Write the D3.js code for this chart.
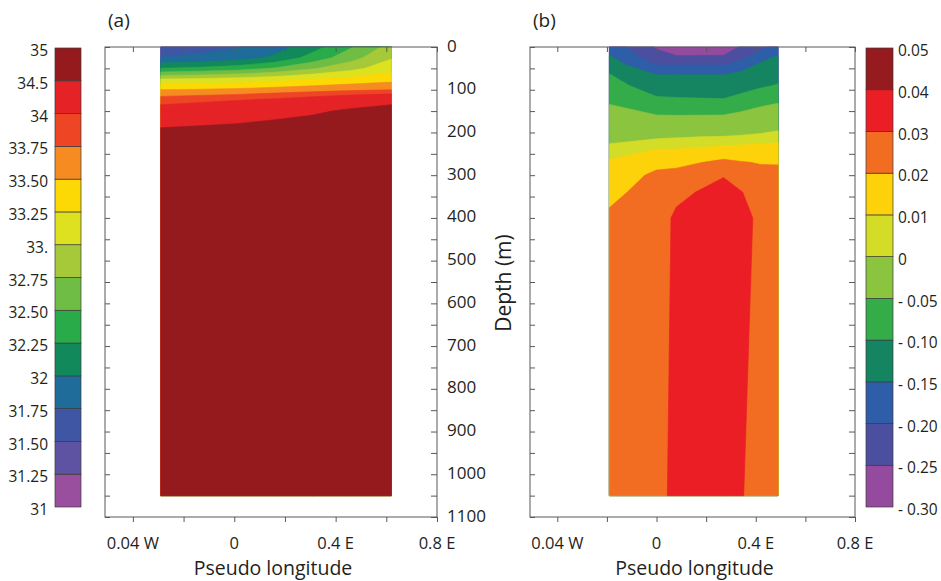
<!DOCTYPE html>
<html lang="en">
<head>
<meta charset="utf-8"/>
<script src="https://d3js.org/d3.v7.min.js"></script>
<style>
  body { margin: 0; background: #fff; }
  text { font-family: "Open Sans", sans-serif; fill: #231f20; }
</style>
</head>
<body>
<div id="chart"></div>
<script>
// (a) salinity section: columns = pseudo longitude, rows = depth (m)
var lonA = [-0.29, -0.14, 0.01, 0.16, 0.31, 0.46, 0.62];
var depthA = [0, 25, 50, 75, 100, 125, 150, 200, 300, 600, 1050];
var salinity = [
  [31.60, 31.66, 31.74, 31.88, 32.15, 32.48, 32.85],
  [31.76, 31.80, 31.88, 32.05, 32.35, 32.65, 32.98],
  [32.25, 32.30, 32.38, 32.52, 32.72, 32.92, 33.15],
  [33.00, 33.03, 33.08, 33.15, 33.24, 33.32, 33.40],
  [33.50, 33.52, 33.55, 33.60, 33.65, 33.70, 33.75],
  [33.90, 33.95, 34.00, 34.08, 34.18, 34.30, 34.40],
  [34.15, 34.19, 34.24, 34.33, 34.44, 34.56, 34.65],
  [34.60, 34.64, 34.68, 34.75, 34.76, 34.77, 34.78],
  [34.80, 34.82, 34.83, 34.84, 34.85, 34.86, 34.86],
  [34.90, 34.90, 34.90, 34.90, 34.90, 34.90, 34.90],
  [34.95, 34.95, 34.95, 34.95, 34.95, 34.95, 34.95]
];
var levelsA = [31, 31.25, 31.5, 31.75, 32, 32.25, 32.5, 32.75, 33, 33.25, 33.5, 33.75, 34, 34.5, 35];
var labelsA = ["31", "31.25", "31.50", "31.75", "32", "32.25", "32.50", "32.75", "33.", "33.25", "33.50", "33.75", "34", "34.5", "35"];
var colorsA = ["#9a4f9e", "#5d53a2", "#3f56a4", "#1f6b9a", "#11895a", "#2aab4a", "#70bd45", "#a6c93a",
               "#dde11f", "#fcd804", "#f68b21", "#ee4525", "#e52327", "#951a1e"];

// (b) anomaly section
var lonB = [-0.19, 0.0, 0.08, 0.27, 0.34, 0.42, 0.49];
var depthB = [0, 20, 42, 65, 90, 120, 160, 210, 240, 270, 300, 340, 400, 1050];
var anomaly = [
  [-0.170, -0.255, -0.270, -0.280, -0.245, -0.210, -0.185],
  [-0.149, -0.235, -0.250, -0.249, -0.220, -0.180, -0.148],
  [-0.123, -0.200, -0.200, -0.200, -0.180, -0.139, -0.130],
  [-0.098, -0.150, -0.150, -0.150, -0.135, -0.120, -0.115],
  [-0.082, -0.125, -0.128, -0.130, -0.120, -0.107, -0.097],
  [-0.059, -0.096, -0.098, -0.101, -0.088, -0.072, -0.063],
  [-0.034, -0.049, -0.050, -0.049, -0.040, -0.028, -0.018],
  [-0.006, -0.002, -0.001, 0.001, 0.003, 0.005, 0.007],
  [0.005, 0.010, 0.0105, 0.0135, 0.014, 0.0135, 0.0135],
  [0.0115, 0.017, 0.0175, 0.022, 0.0205, 0.0195, 0.0195],
  [0.014, 0.022, 0.023, 0.0295, 0.025, 0.0225, 0.022],
  [0.017, 0.025, 0.028, 0.033, 0.0305, 0.025, 0.024],
  [0.022, 0.026, 0.0315, 0.035, 0.033, 0.028, 0.025],
  [0.025, 0.027, 0.0325, 0.035, 0.0305, 0.027, 0.026]
];
var levelsB = [-0.30, -0.25, -0.20, -0.15, -0.10, -0.05, 0, 0.01, 0.02, 0.03, 0.04, 0.05];
var labelsB = ["- 0.30", "- 0.25", "- 0.20", "- 0.15", "- 0.10", "- 0.05", "0", "0.01", "0.02", "0.03", "0.04", "0.05"];
var colorsB = ["#954b9d", "#4c4f9f", "#2e5ea8", "#148560", "#35ac4a", "#8bc43f", "#d3dc27", "#fdd20b",
               "#f26c22", "#ec1e25", "#961b1f"];

var lonTicks = [-0.4, 0, 0.4, 0.8];
var lonTickLabels = ["0.04 W", "0", "0.4 E", "0.8 E"];
var lonMinor = [-0.4, -0.2, 0, 0.2, 0.4, 0.6, 0.8];
var depthTicks = [0, 100, 200, 300, 400, 500, 600, 700, 800, 900, 1000, 1100];
var depthMinor = [0, 50, 100, 150, 200, 250, 300, 350, 400, 450, 500, 550, 600, 650, 700, 750, 800, 850, 900, 950, 1000, 1050, 1100];

var width = 941, height = 581;
var svg = d3.select("#chart").append("svg")
    .attr("width", width)
    .attr("height", height);

var y = d3.scaleLinear().domain([0, 1100]).range([47, 517]);
var xA = d3.scaleLinear().domain([-0.51, 0.8]).range([105, 437]);
var xB = d3.scaleLinear().domain([-0.51, 0.8]).range([530, 855]);

function drawField(field, lons, depths, levels, colors, x) {
    var n = lons.length, m = depths.length;
    var values = [].concat.apply([], field);
    var ix = d3.scaleLinear().domain(d3.range(n)).range(lons).clamp(true);
    var iy = d3.scaleLinear().domain(d3.range(m)).range(depths).clamp(true);
    var proj = d3.geoTransform({
        point: function (px, py) { this.stream.point(x(ix(px - 0.5)), y(iy(py - 0.5))); }
    });
    var path = d3.geoPath(proj);
    var contours = d3.contours().size([n, m]).thresholds(levels.slice(0, -1))(values);
    svg.append("g").selectAll("path")
        .data(contours)
        .join("path")
            .attr("d", path)
            .attr("fill", function (d, i) { return colors[i]; })
            .attr("stroke", function (d, i) { return colors[i]; })
            .attr("stroke-width", 0.6);
}

drawField(salinity, lonA, depthA, levelsA, colorsA, xA);
drawField(anomaly, lonB, depthB, levelsB, colorsB, xB);

function frame(x) {
    var g = svg.append("g").attr("class", "frame");
    g.append("rect")
        .attr("x", x.range()[0]).attr("y", y.range()[0])
        .attr("width", x.range()[1] - x.range()[0])
        .attr("height", y.range()[1] - y.range()[0])
        .attr("fill", "none").attr("stroke", "#58595b").attr("stroke-width", 1);

    g.append("g").attr("transform", "translate(0," + y.range()[1] + ")")
        .call(d3.axisBottom(x).tickValues(lonMinor).tickSize(5).tickFormat(""));
    g.append("g").attr("transform", "translate(0," + y.range()[0] + ")")
        .call(d3.axisTop(x).tickValues(lonMinor).tickSize(-5).tickFormat(""));
    g.append("g").attr("transform", "translate(" + x.range()[0] + ",0)")
        .call(d3.axisLeft(y).tickValues(depthMinor).tickSize(-5).tickFormat(""));
    g.append("g").attr("transform", "translate(" + x.range()[1] + ",0)")
        .call(d3.axisRight(y).tickValues(depthMinor).tickSize(-6).tickFormat(""));
    g.selectAll(".domain").remove();
    g.selectAll(".tick line").attr("stroke", "#58595b");

    g.selectAll(".lonlab")
        .data(lonTicks)
        .join("text")
            .attr("x", function (d) { return x(d); })
            .attr("y", 548.5)
            .attr("text-anchor", "middle")
            .style("font-size", "16.5px")
            .text(function (d, i) { return lonTickLabels[i]; });

    g.append("text")
        .attr("x", (x.range()[0] + x.range()[1]) / 2 + 2)
        .attr("y", 575)
        .attr("text-anchor", "middle")
        .style("font-size", "19.5px")
        .text("Pseudo longitude");
}
frame(xA);
frame(xB);

// depth labels on the right of panel (a)
svg.append("g").selectAll("text")
    .data(depthTicks)
    .join("text")
        .attr("x", 447)
        .attr("y", function (d) { return y(d); })
        .attr("dominant-baseline", "middle")
        .style("font-size", "17px")
        .text(function (d) { return d; });

svg.append("text")
    .attr("transform", "translate(505,283) rotate(-90)")
    .attr("text-anchor", "middle")
    .attr("dominant-baseline", "middle")
    .style("font-size", "21px")
    .text("Depth (m)");

svg.append("text").attr("x", 108).attr("y", 22)
    .attr("dominant-baseline", "middle").style("font-size", "19px").text("(a)");
svg.append("text").attr("x", 533).attr("y", 22)
    .attr("dominant-baseline", "middle").style("font-size", "19px").text("(b)");

// colour bars
function colorbar(x0, w, levels, labels, colors, labelLeft) {
    var idx = d3.scaleLinear().domain([0, levels.length - 1]).range([507, 48]);
    var g = svg.append("g");
    g.selectAll("rect")
        .data(colors)
        .join("rect")
            .attr("x", x0)
            .attr("y", function (d, i) { return idx(i + 1); })
            .attr("width", w)
            .attr("height", function (d, i) { return idx(i) - idx(i + 1); })
            .attr("fill", function (d) { return d; })
            .attr("stroke", "#3a3a3a")
            .attr("stroke-width", 0.7);
    g.selectAll("text")
        .data(labels)
        .join("text")
            .attr("x", labelLeft ? x0 - 7 : x0 + w + 5)
            .attr("y", function (d, i) { return idx(i) + 4; })
            .attr("text-anchor", labelLeft ? "end" : "start")
            .attr("dominant-baseline", "middle")
            .style("font-size", "15.5px")
            .text(function (d) { return d; });
}
colorbar(55, 26, levelsA, labelsA, colorsA, true);
colorbar(866, 27, levelsB, labelsB, colorsB, false);
</script>
</body>
</html>
